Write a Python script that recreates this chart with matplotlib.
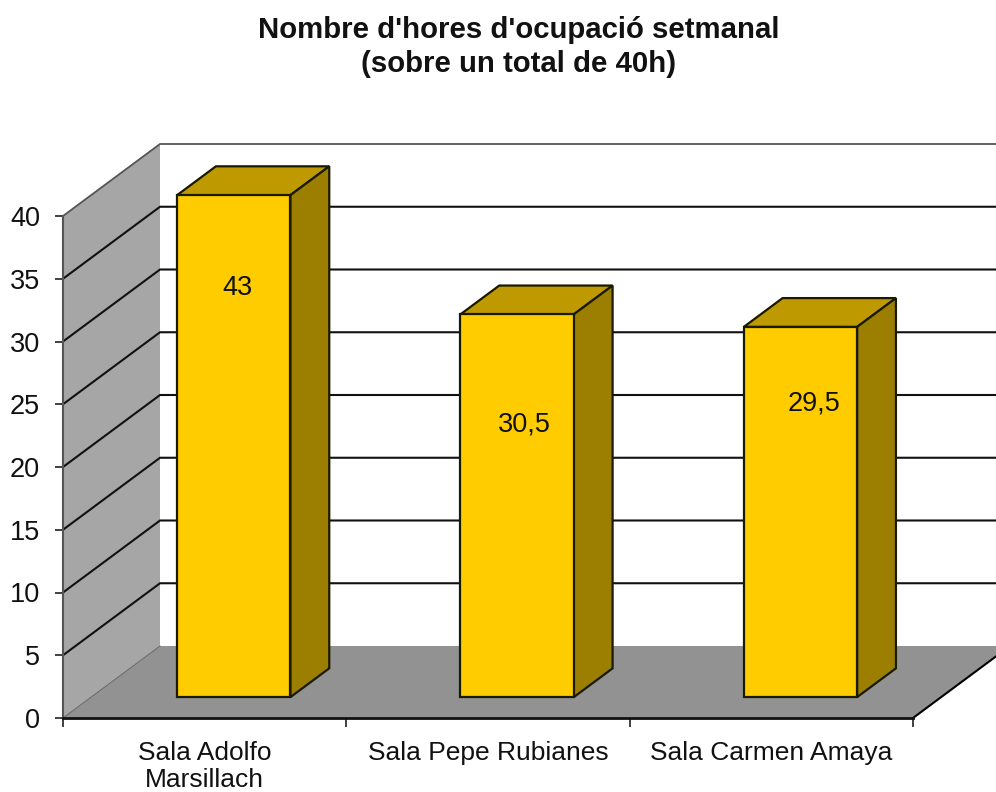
import matplotlib
matplotlib.use("Agg")
import matplotlib.pyplot as plt
from matplotlib.patches import Polygon

plt.rcParams['font.family'] = ['Liberation Sans', 'DejaVu Sans']

# Data
title = "Nombre d'hores d'ocupació setmanal\n(sobre un total de 40h)"
categories = ["Sala Adolfo\nMarsillach", "Sala Pepe Rubianes", "Sala Carmen Amaya"]
values = [43, 30.5, 29.5]
value_labels = ["43", "30,5", "29,5"]
y_ticks = [0, 5, 10, 15, 20, 25, 30, 35, 40]

W, H = 996, 792
fig = plt.figure(figsize=(W / 100, H / 100), dpi=100, facecolor='white')
ax = fig.add_axes([63 / W, 1 - 718 / H, 850 / W, 502 / H])
ax.set_xlim(0, 3)
ax.set_ylim(0, 40)
ax.patch.set_visible(False)

YMAX = 40
DX, DY = 97 / (850 / 3), 72 / (502 / 40)   # oblique shift for full depth
XEND = 3


def pr(x, v, d):
    return (x + DX * d, v + DY * d)


def poly(pts, z, fc='none', ec='none', lw=0.0):
    ax.add_patch(Polygon(pts, closed=True, facecolor=fc, edgecolor=ec, linewidth=lw,
                         zorder=z, clip_on=False, joinstyle='miter'))


# walls and floor
poly([pr(0, 0, 0), pr(0, YMAX, 0), pr(0, YMAX, 1), pr(0, 0, 1)], 1, fc='#A6A6A6')
poly([pr(0, 0, 0), pr(XEND, 0, 0), pr(XEND, 0, 1), pr(0, 0, 1)], 1, fc='#929292')

# wall outlines
ax.plot(*zip(pr(0, YMAX, 0), pr(0, YMAX, 1), pr(XEND, YMAX, 1)), color='#555555', lw=1.3,
        zorder=2, clip_on=False)
ax.plot(*zip(pr(0, 0, 0), pr(0, 0, 1)), color='#666666', lw=0.7, zorder=2, clip_on=False)
ax.plot(*zip(pr(XEND, 0, 0), pr(XEND, 0, 1)), color='black', lw=1.5, zorder=2, clip_on=False)

# gridlines
for v in y_ticks[1:-1]:
    ax.plot(*zip(pr(0, v, 0), pr(0, v, 1), pr(XEND, v, 1)), color='#111111', lw=1.5,
            zorder=2, clip_on=False, solid_joinstyle='miter')

# bars (the axis stops at 40, so the tallest bar is cut there)
D0, D1 = 0.29, 0.69
BW = 0.4
XS = 0.0035
for i, val in enumerate(values):
    v = min(val, YMAX)
    xl, xr = i + 0.5 + XS - BW / 2, i + 0.5 + XS + BW / 2
    kw = dict(ec='#1a1a00', lw=1.6)
    poly([pr(xl, v, D0), pr(xr, v, D0), pr(xr, v, D1), pr(xl, v, D1)], 3, fc='#BF9900', **kw)
    poly([pr(xr, 0, D0), pr(xr, v, D0), pr(xr, v, D1), pr(xr, 0, D1)], 3, fc='#9C7F00', **kw)
    poly([pr(xl, 0, D0), pr(xr, 0, D0), pr(xr, v, D0), pr(xl, v, D0)], 4, fc='#FFCC00', **kw)

# value labels, placed by hand as in the reference
label_x = [0.615, 1.63, 2.65]
label_y = [34.25, 23.4, 25.05]
for x, y, s in zip(label_x, label_y, value_labels):
    ax.text(x, y, s, ha='center', va='center', fontsize=19.5, color='#111111', zorder=5)

# axes furniture
for s in ('top', 'right'):
    ax.spines[s].set_visible(False)
ax.spines['left'].set_color('#555555')
ax.spines['left'].set_linewidth(1.5)
ax.spines['bottom'].set_color('#111111')
ax.spines['bottom'].set_linewidth(2.0)
ax.spines['left'].set_zorder(6)
ax.spines['bottom'].set_zorder(6)
ax.set_yticks(y_ticks)
ax.tick_params(axis='y', length=5.5, width=1.3, color='#333333', labelsize=19.5, pad=11,
               labelcolor='#111111')
ax.set_xticks([0, 1, 2, 3])
ax.set_xticklabels([])
ax.tick_params(axis='x', which='major', length=6.5, width=1.3, color='#333333')
ax.set_xticks([0.5, 1.5, 2.5], minor=True)
ax.set_xticklabels(categories, minor=True, fontsize=19, color='#111111', linespacing=1.18)
ax.tick_params(axis='x', which='minor', length=0, pad=16.5)

fig.text(519 / W, 1 - 47 / H, title, ha='center', va='center', fontsize=21.2,
         fontweight='bold', color='#111111', linespacing=1.24)

fig.savefig('out.png', dpi=100)
